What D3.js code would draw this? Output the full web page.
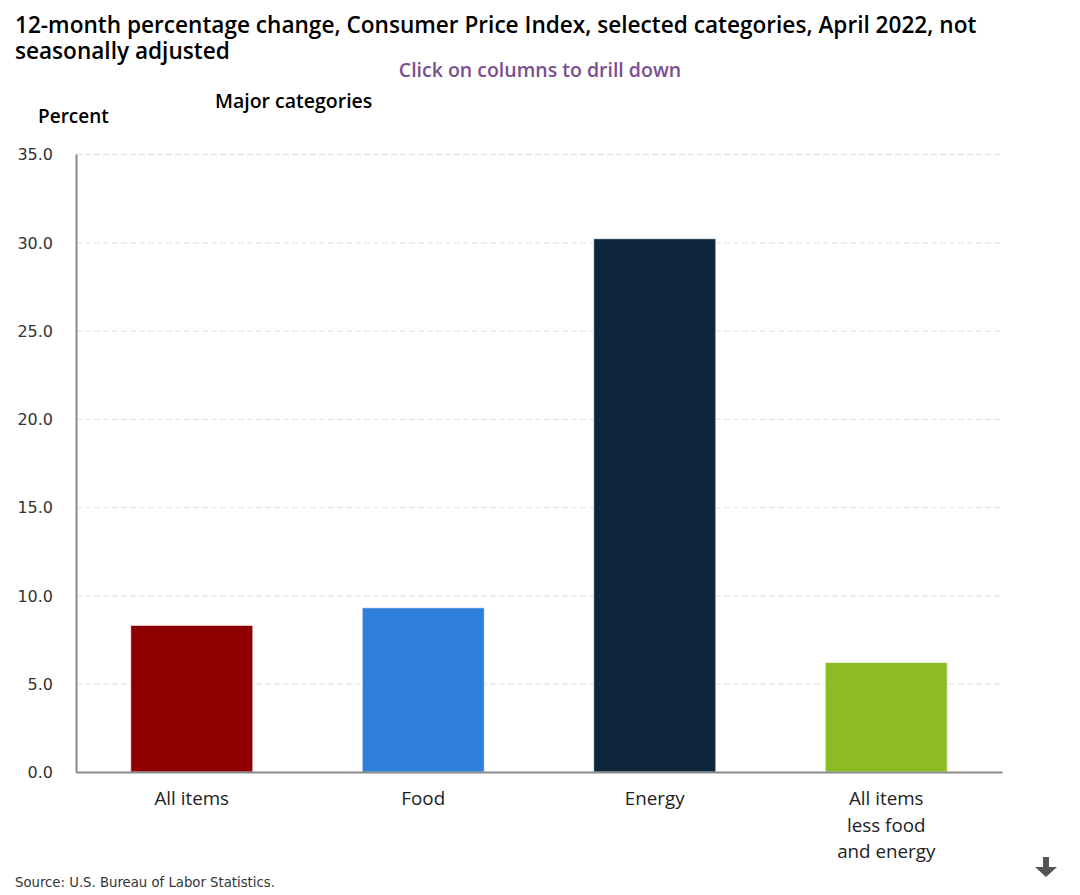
<!DOCTYPE html>
<html>
<head>
<meta charset="utf-8">
<script src="https://cdn.jsdelivr.net/npm/d3@7"></script>
<style>
  html, body { margin: 0; padding: 0; background: #fff; }
  svg { display: block; }
</style>
</head>
<body>
<script>
const categories = ["All items", "Food", "Energy", "All items less food and energy"];
const values = [8.3, 9.3, 30.2, 6.2];
const colors = ["#8e0000", "#2e7edb", "#0d263c", "#8cbc21"];
const yTicks = [0, 5, 10, 15, 20, 25, 30, 35];
const categoryLines = [["All items"], ["Food"], ["Energy"], ["All items", "less food", "and energy"]];
const titleLines = [
  "12-month percentage change, Consumer Price Index, selected categories, April 2022, not",
  "seasonally adjusted"
];

const w = 1080;
const h = 895;
const plotLeft = 76, plotRight = 1002, plotTop = 154, plotBottom = 772;
const sansFont = "'Open Sans', 'Noto Sans', sans-serif";
const tickFont = "'DejaVu Sans', sans-serif";

const svg = d3.select("body")
  .append("svg")
  .attr("width", w)
  .attr("height", h);

const x = d3.scaleBand()
  .domain(categories)
  .range([plotLeft, plotRight])
  .paddingInner(0.473)
  .paddingOuter(0.2365);

const y = d3.scaleLinear()
  .domain([0, 35])
  .range([plotBottom, plotTop]);

// Gridlines
svg.append("g")
  .selectAll("line")
  .data(yTicks.filter((d) => d > 0))
  .enter()
  .append("line")
  .attr("x1", plotLeft)
  .attr("x2", plotRight - 2)
  .attr("y1", (d) => y(d) + 0.5)
  .attr("y2", (d) => y(d) + 0.5)
  .attr("stroke", "#e6e6e6")
  .attr("stroke-width", 1.3)
  .attr("stroke-dasharray", "6,3");

// Bars, with the thin pale edge the columns have
svg.append("g")
  .selectAll("rect")
  .data(categories)
  .enter()
  .append("rect")
  .attr("x", (d) => x(d))
  .attr("y", (d, i) => y(values[i]))
  .attr("width", x.bandwidth())
  .attr("height", (d, i) => y(0) - y(values[i]))
  .attr("fill", (d, i) => colors[i])
  .attr("stroke", "#fff")
  .attr("stroke-opacity", 0.6)
  .attr("stroke-width", 1);

// Y axis
const yAxis = svg.append("g")
  .attr("transform", `translate(${plotLeft},0)`)
  .call(d3.axisLeft(y).tickValues(yTicks).tickFormat(d3.format(".1f")).tickSize(0).tickPadding(23));
yAxis.select(".domain").attr("stroke", "#8a8a8a").attr("stroke-width", 2);
yAxis.selectAll("text")
  .attr("fill", "#333")
  .attr("dy", "0.36em")
  .style("font-family", tickFont)
  .style("font-size", "16px");

// X axis
const xAxis = svg.append("g")
  .attr("transform", `translate(0,${plotBottom})`)
  .call(d3.axisBottom(x).tickSize(0).tickFormat(""));
xAxis.select(".domain").attr("stroke", "#8a8a8a").attr("stroke-width", 2);

// Category labels, wrapped on their own lines
svg.append("g")
  .selectAll("text")
  .data(categories)
  .enter()
  .append("text")
  .attr("text-anchor", "middle")
  .attr("fill", "#222")
  .style("font-family", sansFont)
  .style("font-size", "18.8px")
  .selectAll("tspan")
  .data((d, i) => categoryLines[i].map((line) => ({ line, cat: d })))
  .enter()
  .append("tspan")
  .attr("x", (d) => x(d.cat) + x.bandwidth() / 2)
  .attr("y", (d, i) => 805 + i * 26.5)
  .text((d) => d.line);

// Title, one text with two lines
svg.append("text")
  .attr("fill", "#000")
  .style("font-family", sansFont)
  .style("font-size", "22.6px")
  .style("font-weight", 600)
  .selectAll("tspan")
  .data(titleLines)
  .enter()
  .append("tspan")
  .attr("x", 15)
  .attr("y", (d, i) => 33 + i * 26)
  .text((d) => d);

svg.append("text")
  .attr("x", 540)
  .attr("y", 77)
  .attr("text-anchor", "middle")
  .attr("fill", "#7a4f8f")
  .style("font-family", sansFont)
  .style("font-size", "19.5px")
  .style("font-weight", 600)
  .text("Click on columns to drill down");

svg.append("text")
  .attr("x", 215)
  .attr("y", 108)
  .attr("fill", "#000")
  .style("font-family", sansFont)
  .style("font-size", "19.5px")
  .style("font-weight", 600)
  .text("Major categories");

svg.append("text")
  .attr("x", 38)
  .attr("y", 123)
  .attr("fill", "#000")
  .style("font-family", sansFont)
  .style("font-size", "19px")
  .style("font-weight", 600)
  .text("Percent");

svg.append("text")
  .attr("x", 15)
  .attr("y", 887)
  .attr("fill", "#333")
  .style("font-family", tickFont)
  .style("font-size", "13.25px")
  .text("Source: U.S. Bureau of Labor Statistics.");

// Download arrow in the corner
svg.append("path")
  .attr("transform", "translate(1046,857)")
  .attr("d", "M-3,0H3V10H11L0,20L-11,10H-3Z")
  .attr("fill", "#555");
</script>
</body>
</html>
